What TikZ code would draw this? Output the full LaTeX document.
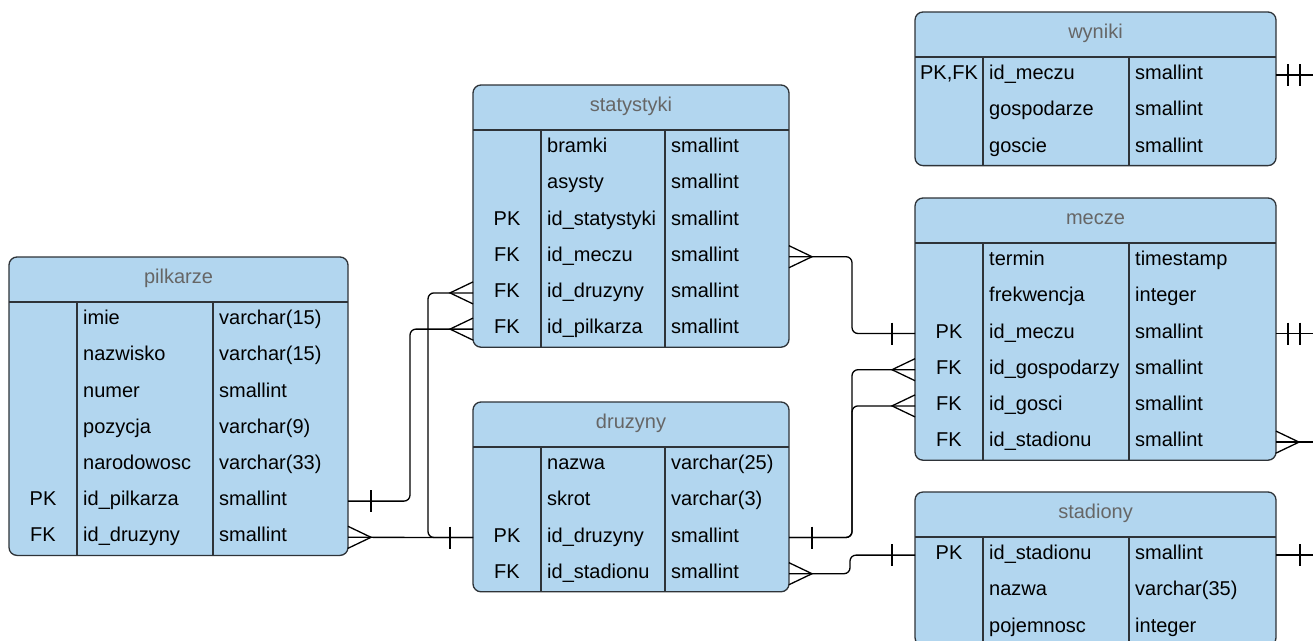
\documentclass[tikz,border=0pt]{standalone}
\usepackage{fontspec}
\setmainfont{Liberation Sans}
\usetikzlibrary{calc}
\definecolor{tabfill}{HTML}{B2D6EF}
\definecolor{tabline}{HTML}{2E3338}
\definecolor{titlegray}{HTML}{666666}
\tikzset{
  tabbox/.style={draw=tabline, fill=tabfill, line width=1.3pt, rounded corners=8pt, inner sep=0pt, outer sep=0pt},
  tabrule/.style={draw=tabline, line width=1.2pt},
  titletxt/.style={text=titlegray, font=\fontsize{20}{24}\selectfont, inner sep=0pt, anchor=base},
  celltxt/.style={text=black, font=\fontsize{20}{24}\selectfont, inner sep=0pt},
  conn/.style={draw=black, line width=1.3pt, rounded corners=6pt},
  endmark/.style={draw=black, line width=1.3pt},
}
\newcommand\ertable[8]{%
  \def\erx{#2}\def\ertop{#3}\def\erca{#5}\def\ercb{#6}%
  \pgfmathsetmacro\erbot{#3+45+36.2*#7}%
  \pgfmathsetmacro\erw{#4-#2}%
  \pgfmathsetmacro\erh{\erbot-#3}%
  \node[tabbox, minimum width=\erw pt, minimum height=\erh pt, anchor=north west] (#1) at (#2,#3) {};
  \draw[tabrule] (#2,#3+45) -- (#4,#3+45);
  \draw[tabrule] (#5,#3+45) -- (#5,\erbot);
  \draw[tabrule] (#6,#3+45) -- (#6,\erbot);
  \node[titletxt] (#1-title) at ({(#2+#4)/2},#3+26) {#8};
}
\newcommand\errow[5]{%
  \pgfmathsetmacro\ery{\ertop+45+18.1+36.2*#2}%
  \coordinate (#1-r#2) at (\erx,\ery);
  \if\relax\detokenize{#3}\relax\else
    \node[celltxt, anchor=base] (#1-k#2) at ({(\erx+\erca)/2},\ery+4.5) {#3};
  \fi
  \node[celltxt, anchor=base west] (#1-f#2) at (\erca+6,\ery+4.5) {#4};
  \node[celltxt, anchor=base west] (#1-t#2) at (\ercb+6,\ery+4.5) {#5};
}
\newcommand\crow[2]{\draw[endmark] ($(#1)+(0,-11)$) -- ($(#1)+(#2*23,0)$) -- ($(#1)+(0,11)$);}
\newcommand\erbar[2]{\draw[endmark] ($(#1)+(#2,-11)$) -- ($(#1)+(#2,11)$);}
\begin{document}
\begin{tikzpicture}[x=1pt,y=-1pt]
\useasboundingbox (0,0) rectangle (1313,640);
\clip (0,0) rectangle (1313,640);
\fill[white] (0,0) rectangle (1313,640);

\ertable{pilkarze}{9}{257}{348}{77}{213}{7}{pilkarze}
\errow{pilkarze}{0}{}{imie}{varchar(15)}
\errow{pilkarze}{1}{}{nazwisko}{varchar(15)}
\errow{pilkarze}{2}{}{numer}{smallint}
\errow{pilkarze}{3}{}{pozycja}{varchar(9)}
\errow{pilkarze}{4}{}{narodowosc}{varchar(33)}
\errow{pilkarze}{5}{PK}{id\_pilkarza}{smallint}
\errow{pilkarze}{6}{FK}{id\_druzyny}{smallint}

\ertable{statystyki}{473}{85}{789}{541}{665}{6}{statystyki}
\errow{statystyki}{0}{}{bramki}{smallint}
\errow{statystyki}{1}{}{asysty}{smallint}
\errow{statystyki}{2}{PK}{id\_statystyki}{smallint}
\errow{statystyki}{3}{FK}{id\_meczu}{smallint}
\errow{statystyki}{4}{FK}{id\_druzyny}{smallint}
\errow{statystyki}{5}{FK}{id\_pilkarza}{smallint}

\ertable{druzyny}{473}{402}{789}{541}{665}{4}{druzyny}
\errow{druzyny}{0}{}{nazwa}{varchar(25)}
\errow{druzyny}{1}{}{skrot}{varchar(3)}
\errow{druzyny}{2}{PK}{id\_druzyny}{smallint}
\errow{druzyny}{3}{FK}{id\_stadionu}{smallint}

\ertable{wyniki}{915}{12}{1276}{983}{1129}{3}{wyniki}
\errow{wyniki}{0}{PK,FK}{id\_meczu}{smallint}
\errow{wyniki}{1}{}{gospodarze}{smallint}
\errow{wyniki}{2}{}{goscie}{smallint}

\ertable{mecze}{915}{198}{1276}{983}{1129}{6}{mecze}
\errow{mecze}{0}{}{termin}{timestamp}
\errow{mecze}{1}{}{frekwencja}{integer}
\errow{mecze}{2}{PK}{id\_meczu}{smallint}
\errow{mecze}{3}{FK}{id\_gospodarzy}{smallint}
\errow{mecze}{4}{FK}{id\_gosci}{smallint}
\errow{mecze}{5}{FK}{id\_stadionu}{smallint}

\ertable{stadiony}{915}{492}{1276}{983}{1129}{3}{stadiony}
\errow{stadiony}{0}{PK}{id\_stadionu}{smallint}
\errow{stadiony}{1}{}{nazwa}{varchar(35)}
\errow{stadiony}{2}{}{pojemnosc}{integer}

% edge points
\coordinate (pE5) at (pilkarze.east |- pilkarze-r5);
\coordinate (pE6) at (pilkarze.east |- pilkarze-r6);
\coordinate (sW4) at (statystyki.west |- statystyki-r4);
\coordinate (sW5) at (statystyki.west |- statystyki-r5);
\coordinate (sE3) at (statystyki.east |- statystyki-r3);
\coordinate (dW2) at (druzyny.west |- druzyny-r2);
\coordinate (dE2) at (druzyny.east |- druzyny-r2);
\coordinate (dE3) at (druzyny.east |- druzyny-r3);
\coordinate (mW2) at (mecze.west |- mecze-r2);
\coordinate (mW3) at (mecze.west |- mecze-r3);
\coordinate (mW4) at (mecze.west |- mecze-r4);
\coordinate (mE2) at (mecze.east |- mecze-r2);
\coordinate (mE5) at (mecze.east |- mecze-r5);
\coordinate (wE0) at (wyniki.east |- wyniki-r0);
\coordinate (tW0) at (stadiony.west |- stadiony-r0);
\coordinate (tE0) at (stadiony.east |- stadiony-r0);
\coordinate (wOut) at ($(wE0)+(50,0)$);
\coordinate (mOut2) at ($(mE2)+(50,0)$);
\coordinate (mOut5) at ($(mE5)+(50,0)$);
\coordinate (tOut) at ($(tE0)+(50,0)$);

% connectors
\draw[conn] (pE5) -- ++(62,0) |- (sW5);
\erbar{pE5}{23} \crow{sW5}{-1}

\draw[conn] (pE6) -- (dW2);
\crow{pE6}{1} \erbar{dW2}{-23}

\draw[conn] (sW4) -- ++(-45,0) |- (dW2);
\crow{sW4}{-1}

\draw[conn] (sE3) -- ++(63,0) |- (mW2);
\crow{sE3}{1} \erbar{mW2}{-23}

\draw[conn] (mW3) -- ++(-63,0) |- (dE2);
\crow{mW3}{-1}
\draw[conn] (mW4) -- ++(-63,0) |- (dE2);
\crow{mW4}{-1} \erbar{dE2}{23}

\draw[conn] (dE3) -- ++(61,0) |- (tW0);
\crow{dE3}{1} \erbar{tW0}{-23}

\draw[conn] (wE0) -- (wOut);
\erbar{wE0}{12} \erbar{wE0}{24}
\draw[conn] (mE2) -- (mOut2);
\erbar{mE2}{12} \erbar{mE2}{24}
\draw[conn] (mE5) -- (mOut5);
\crow{mE5}{1}
\draw[conn] (tE0) -- (tOut);
\erbar{tE0}{24}
\end{tikzpicture}
\end{document}
